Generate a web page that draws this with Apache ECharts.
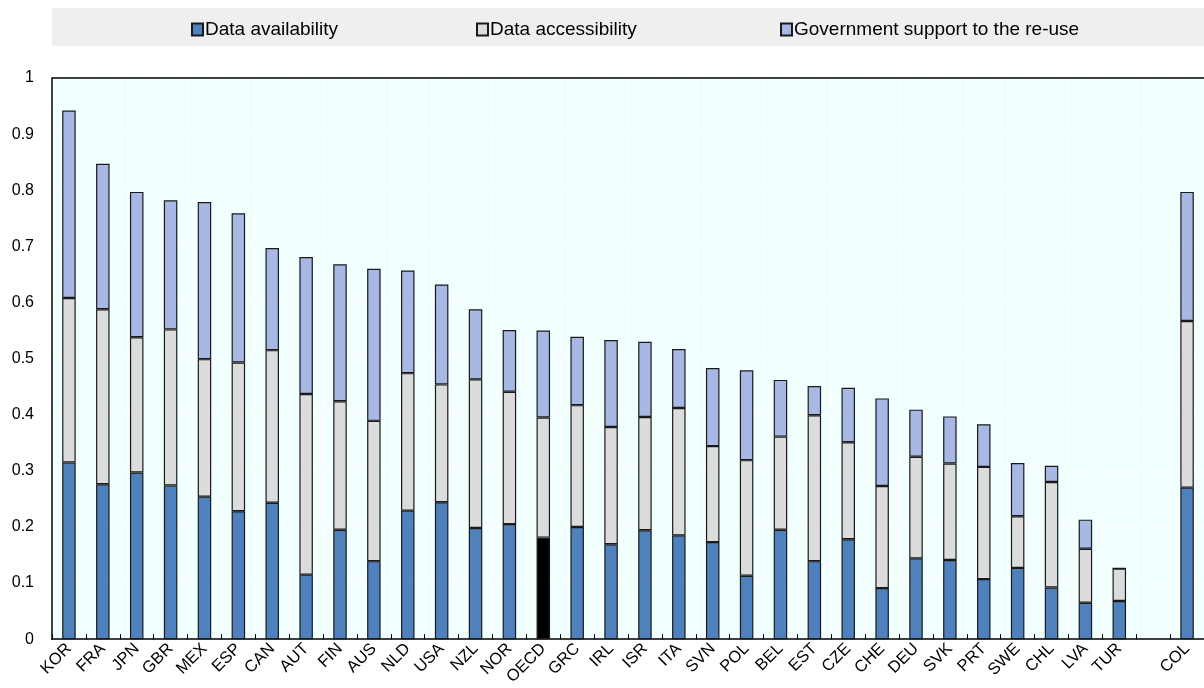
<!DOCTYPE html>
<html>
<head>
<meta charset="utf-8">
<script src="https://cdn.jsdelivr.net/npm/echarts@6/dist/echarts.min.js"></script>
<style>html,body{margin:0;padding:0;background:#fff}#c{width:1204px;height:688px}</style>
</head>
<body>
<div id="c"></div>
<script>
const categories = ['KOR','FRA','JPN','GBR','MEX','ESP','CAN','AUT','FIN','AUS','NLD','USA','NZL','NOR','OECD','GRC','IRL','ISR','ITA','SVN','POL','BEL','EST','CZE','CHE','DEU','SVK','PRT','SWE','CHL','LVA','TUR','','COL'];
const availability = [0.315,0.276,0.297,0.274,0.254,0.228,0.243,0.115,0.195,0.139,0.229,0.244,0.198,0.205,0.181,0.200,0.169,0.194,0.185,0.173,0.113,0.195,0.139,0.178,0.091,0.144,0.141,0.107,0.127,0.092,0.065,0.068,null,0.270];
const accessibility = [0.293,0.312,0.241,0.278,0.245,0.265,0.272,0.322,0.229,0.250,0.245,0.210,0.265,0.236,0.214,0.217,0.209,0.202,0.227,0.171,0.206,0.166,0.260,0.173,0.182,0.181,0.172,0.200,0.092,0.188,0.096,0.058,null,0.297];
const support = [0.334,0.259,0.259,0.230,0.280,0.266,0.182,0.244,0.244,0.271,0.183,0.178,0.125,0.110,0.155,0.122,0.155,0.134,0.105,0.139,0.160,0.101,0.052,0.097,0.156,0.084,0.084,0.076,0.095,0.029,0.052,0,null,0.230];
const seriesNames = ['Data availability','Data accessibility','Government support to the re-use'];
const yTicks = [0,0.1,0.2,0.3,0.4,0.5,0.6,0.7,0.8,0.9,1];
const highlight = 'OECD';

const chart = echarts.init(document.getElementById('c'));
const border = {borderColor:'#1a1a1a', borderWidth:1.2};
const availData = availability.map((v,i)=> categories[i]===highlight ? {value:v, itemStyle:{color:'#000000'}} : v);
const legendLeft = [186, 471, 775];

chart.setOption({
  animation:false,
  textStyle:{fontFamily:'Liberation Sans, Arial, sans-serif'},
  graphic:[
    {type:'rect', z:-10, shape:{x:52,y:8,width:1152,height:38}, style:{fill:'#EFEFEF'}},
    {type:'line', z:10, shape:{x1:52,y1:78,x2:1204,y2:78}, style:{stroke:'#000', lineWidth:1.5}}
  ],
  legend: seriesNames.map((n,i)=>({
    data:[n], top:15, left:legendLeft[i], icon:'rect', itemWidth:11, itemHeight:12, itemGap:6,
    textStyle:{fontSize:19, color:'#000', padding:[0,0,0,-3]}
  })),
  grid:{left:52, top:78, width:1155, height:565, show:true, backgroundColor:'#F2FFFF', borderWidth:0, containLabel:false},
  xAxis:{
    type:'category', data:categories,
    axisLine:{lineStyle:{color:'#000', width:1.5}},
    axisTick:{show:true, inside:true, length:5, lineStyle:{color:'#000'}},
    splitLine:{show:true, lineStyle:{color:'#ffffff', width:1}},
    axisLabel:{interval:0, rotate:45, fontSize:16.5, color:'#000', margin:7}
  },
  yAxis:{
    type:'value', min:0, max:1, interval:0.1,
    axisLine:{show:true, lineStyle:{color:'#000', width:1.5}},
    axisTick:{show:false},
    splitLine:{show:true, lineStyle:{color:'#ffffff', width:1}},
    axisLabel:{fontSize:16, color:'#000', margin:18, formatter:v=>{const t=yTicks.find(x=>Math.abs(x-v)<1e-9);return t===undefined?'':String(t);}}
  },
  series:[
    {name:seriesNames[0], type:'bar', stack:'s', barWidth:13.5, data:availData, itemStyle:Object.assign({color:'#4F81BD'},border)},
    {name:seriesNames[1], type:'bar', stack:'s', barWidth:13.5, data:accessibility, itemStyle:Object.assign({color:'#DCDCDC'},border)},
    {name:seriesNames[2], type:'bar', stack:'s', barWidth:13.5, data:support, itemStyle:Object.assign({color:'#A7B8E4'},border)}
  ]
});
</script>
</body>
</html>
